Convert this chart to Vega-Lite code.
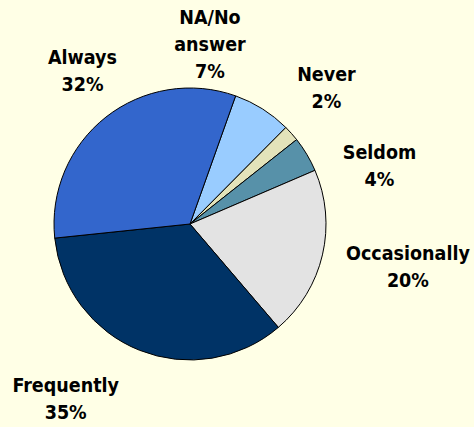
{
  "$schema": "https://vega.github.io/schema/vega-lite/v6.json",
  "autosize": {"type": "none"},
  "width": 380,
  "height": 406,
  "padding": {"left": 0, "top": 21, "right": 94, "bottom": 0},
  "background": "#FFFFE6",
  "view": {"stroke": null},
  "config": {"text": {"font": "DejaVu Sans Condensed, Lato", "fontWeight": "bold", "fontSize": 19.5, "lineHeight": 27, "lineBreak": "|", "align": "center", "baseline": "middle", "fill": "#000000"}},
  "data": {
    "values": [
      {"cat": "NA/No answer", "value": 7.0, "order": 1},
      {"cat": "Never", "value": 1.9, "order": 2},
      {"cat": "Seldom", "value": 4.2, "order": 3},
      {"cat": "Occasionally", "value": 20.2, "order": 4},
      {"cat": "Frequently", "value": 34.6, "order": 5},
      {"cat": "Always", "value": 32.1, "order": 6}
    ]
  },
  "transform": [
    {"stack": "value", "groupby": [], "sort": [{"field": "order", "order": "ascending"}], "as": ["v0", "v1"]},
    {"calculate": "(datum.v0 + datum.v1) / 2", "as": "mid"},
    {"calculate": "replace(datum.cat, ' ', '|') + '|' + format(datum.value, '.0f') + '%'", "as": "label"}
  ],
  "layer": [
    {
      "mark": {"type": "arc", "radius": 136, "stroke": "#000000", "strokeWidth": 1},
      "encoding": {
        "theta": {"field": "v0", "type": "quantitative", "scale": {"type": "linear", "domain": [0, 100], "range": [0.3421, 6.6253], "zero": false, "nice": false}},
        "theta2": {"field": "v1"},
        "color": {
          "field": "cat", "type": "nominal", "legend": null,
          "scale": {
            "domain": ["NA/No answer", "Never", "Seldom", "Occasionally", "Frequently", "Always"],
            "range": ["#99CCFF", "#E3E3BA", "#5791A9", "#E3E3E3", "#003366", "#3366CC"]
          }
        }
      }
    },
    {
      "transform": [{"filter": {"field": "cat", "equal": "Always"}}],
      "mark": {"type": "text", "radius": 195, "dx": 13, "dy": -13},
      "encoding": {"theta": {"field": "mid", "type": "quantitative"}, "text": {"field": "label"}}
    },
    {
      "transform": [{"filter": {"field": "cat", "equal": "NA/No answer"}}],
      "mark": {"type": "text", "radius": 195, "dx": -84, "dy": -41},
      "encoding": {"theta": {"field": "mid", "type": "quantitative"}, "text": {"field": "label"}}
    },
    {
      "transform": [{"filter": {"field": "cat", "equal": "Never"}}],
      "mark": {"type": "text", "radius": 195, "dx": -9, "dy": -19},
      "encoding": {"theta": {"field": "mid", "type": "quantitative"}, "text": {"field": "label"}}
    },
    {
      "transform": [{"filter": {"field": "cat", "equal": "Seldom"}}],
      "mark": {"type": "text", "radius": 195, "dx": 22, "dy": 29},
      "encoding": {"theta": {"field": "mid", "type": "quantitative"}, "text": {"field": "label"}}
    },
    {
      "transform": [{"filter": {"field": "cat", "equal": "Occasionally"}}],
      "mark": {"type": "text", "radius": 195, "dx": 28, "dy": -14},
      "encoding": {"theta": {"field": "mid", "type": "quantitative"}, "text": {"field": "label"}}
    },
    {
      "transform": [{"filter": {"field": "cat", "equal": "Frequently"}}],
      "mark": {"type": "text", "radius": 195, "dx": -52, "dy": -19},
      "encoding": {"theta": {"field": "mid", "type": "quantitative"}, "text": {"field": "label"}}
    }
  ]
}
